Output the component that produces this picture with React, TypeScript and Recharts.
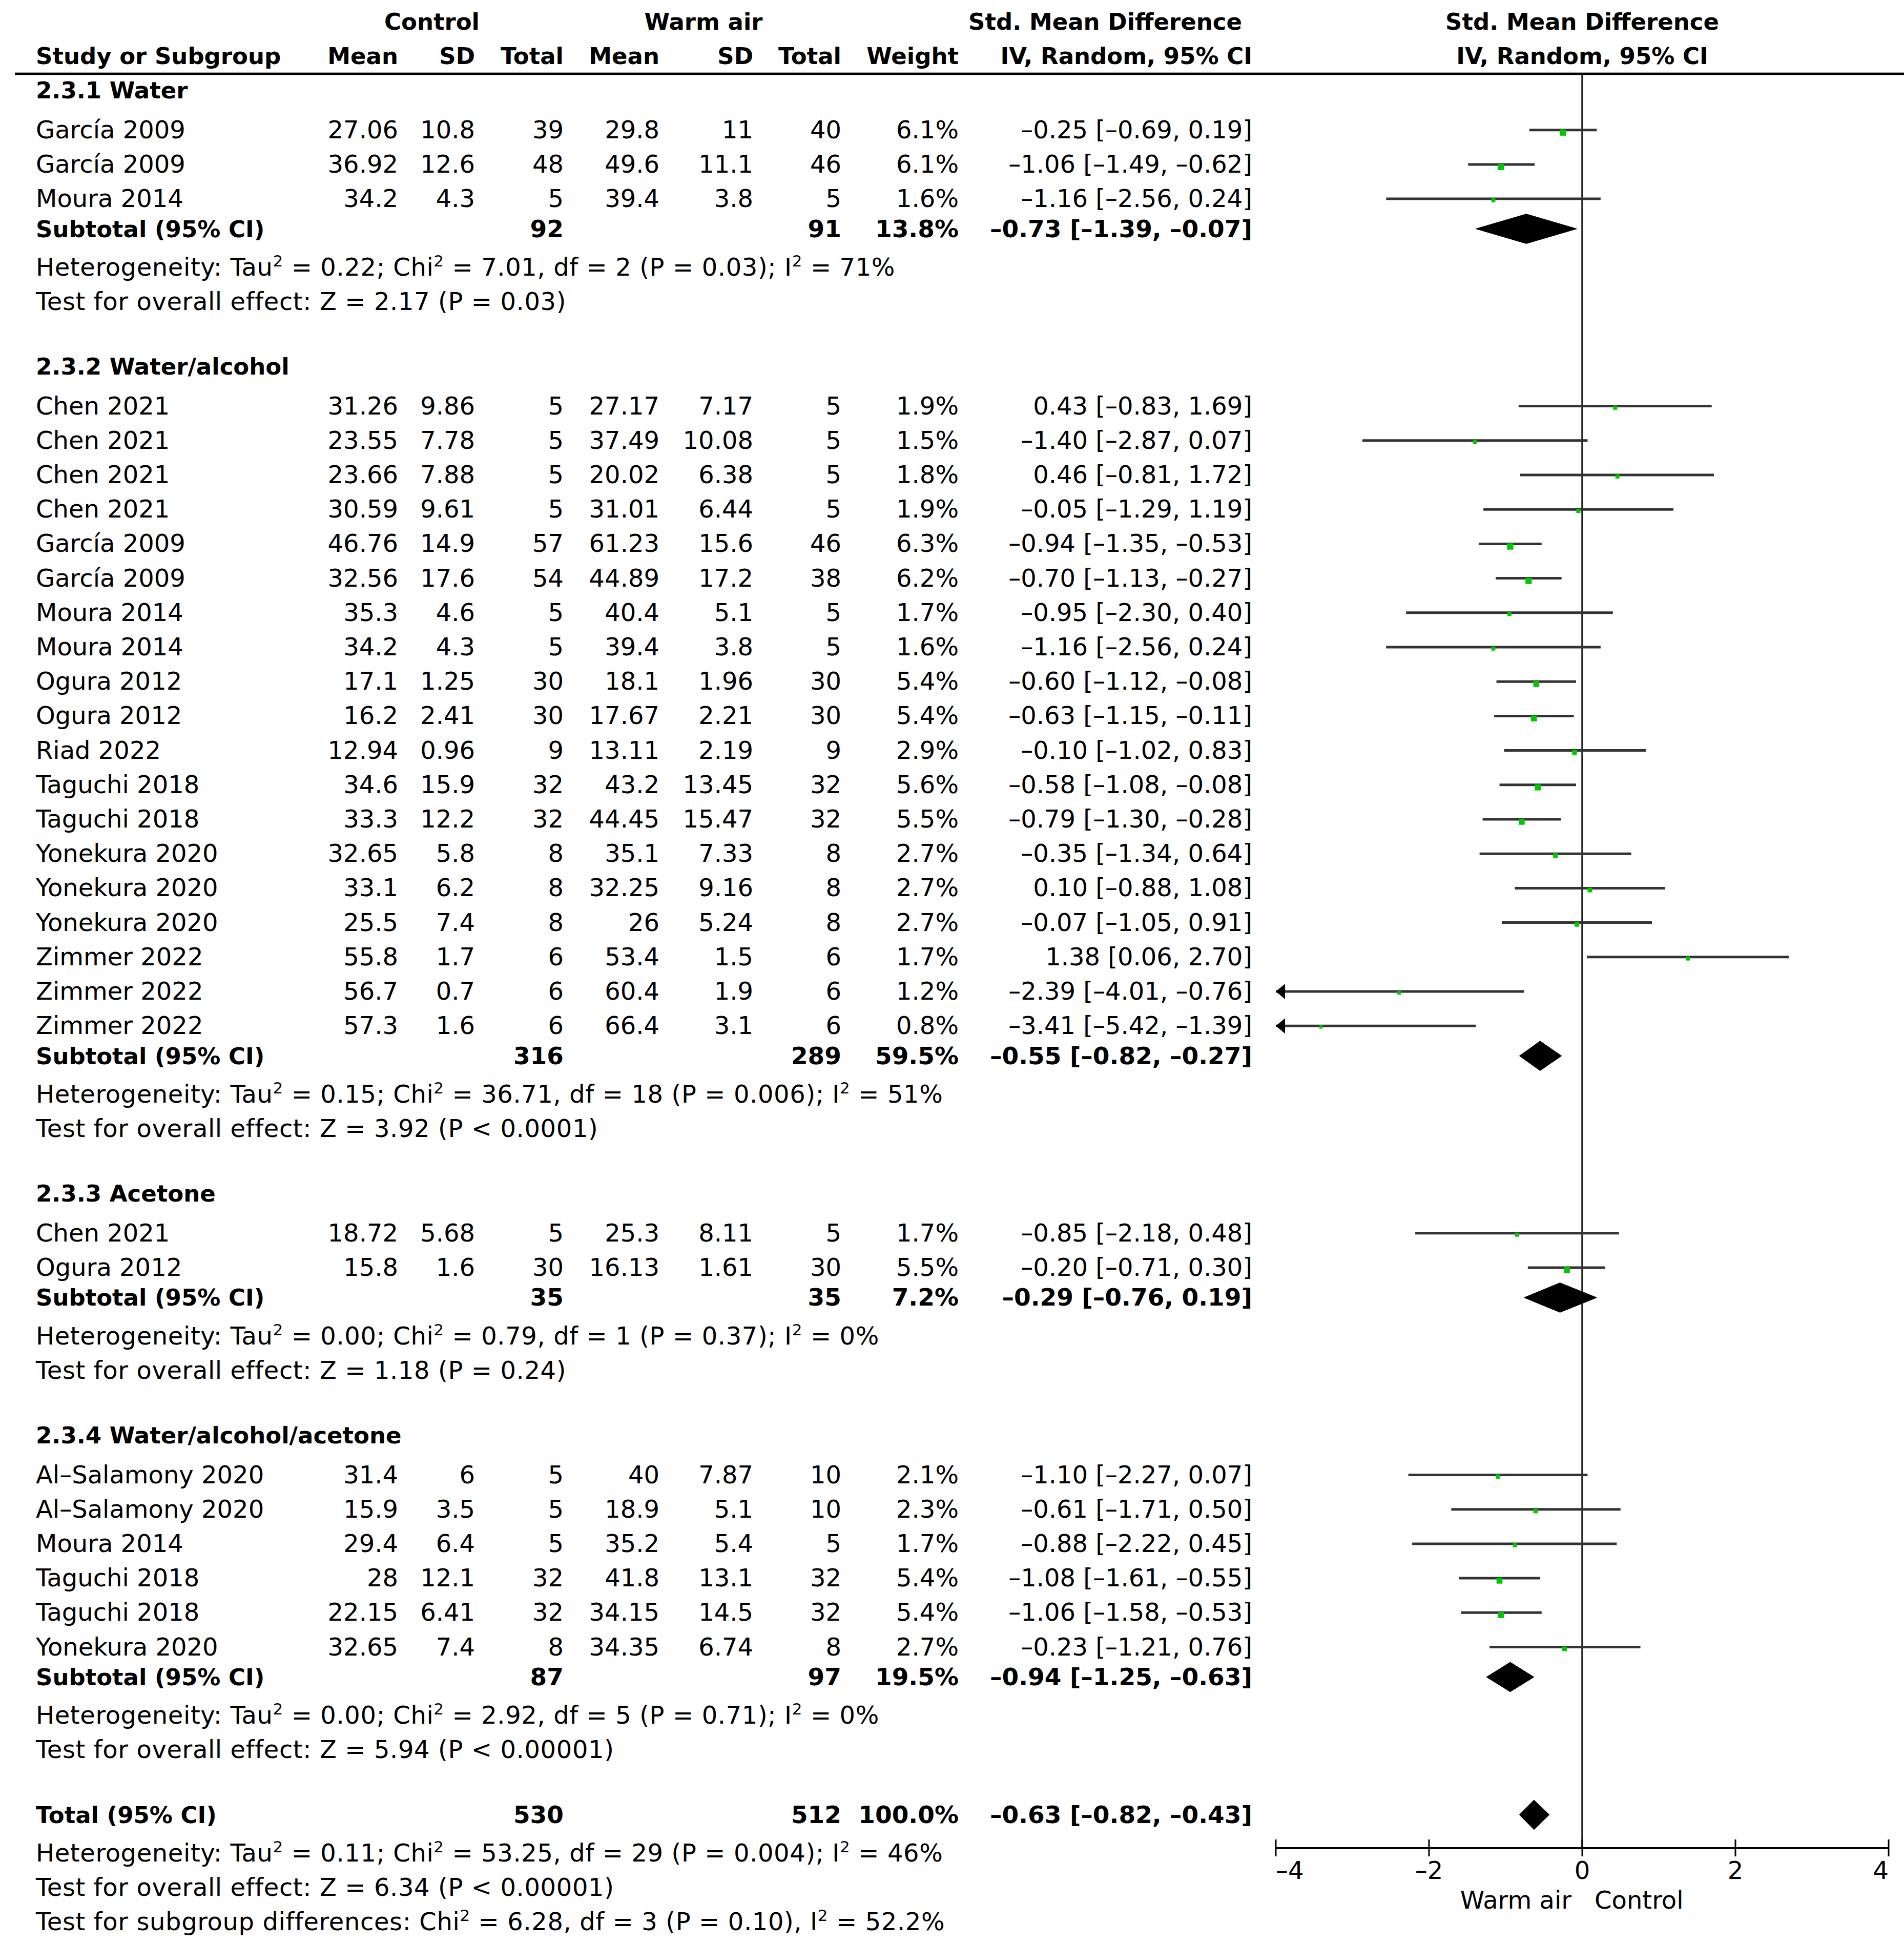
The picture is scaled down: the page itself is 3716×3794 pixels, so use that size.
import React from 'react';
import { ScatterChart, Scatter, XAxis, YAxis, ReferenceLine } from 'recharts';

const W = 3716;
const H = 3794;
const FONT = '"DejaVu Sans", sans-serif';

// name, control mean, sd, total, warm air mean, sd, total, weight %, SMD, lower, upper
type Study = [string, number, number, number, number, number, number, number, number, number, number];

const groupTitles = ['2.3.1 Water', '2.3.2 Water/alcohol', '2.3.3 Acetone', '2.3.4 Water/alcohol/acetone'];

const waterStudies: Study[] = [
  ['García 2009', 27.06, 10.8, 39, 29.8, 11, 40, 6.1, -0.25, -0.69, 0.19],
  ['García 2009', 36.92, 12.6, 48, 49.6, 11.1, 46, 6.1, -1.06, -1.49, -0.62],
  ['Moura 2014', 34.2, 4.3, 5, 39.4, 3.8, 5, 1.6, -1.16, -2.56, 0.24],
];

const waterAlcoholStudies: Study[] = [
  ['Chen 2021', 31.26, 9.86, 5, 27.17, 7.17, 5, 1.9, 0.43, -0.83, 1.69],
  ['Chen 2021', 23.55, 7.78, 5, 37.49, 10.08, 5, 1.5, -1.4, -2.87, 0.07],
  ['Chen 2021', 23.66, 7.88, 5, 20.02, 6.38, 5, 1.8, 0.46, -0.81, 1.72],
  ['Chen 2021', 30.59, 9.61, 5, 31.01, 6.44, 5, 1.9, -0.05, -1.29, 1.19],
  ['García 2009', 46.76, 14.9, 57, 61.23, 15.6, 46, 6.3, -0.94, -1.35, -0.53],
  ['García 2009', 32.56, 17.6, 54, 44.89, 17.2, 38, 6.2, -0.7, -1.13, -0.27],
  ['Moura 2014', 35.3, 4.6, 5, 40.4, 5.1, 5, 1.7, -0.95, -2.3, 0.4],
  ['Moura 2014', 34.2, 4.3, 5, 39.4, 3.8, 5, 1.6, -1.16, -2.56, 0.24],
  ['Ogura 2012', 17.1, 1.25, 30, 18.1, 1.96, 30, 5.4, -0.6, -1.12, -0.08],
  ['Ogura 2012', 16.2, 2.41, 30, 17.67, 2.21, 30, 5.4, -0.63, -1.15, -0.11],
  ['Riad 2022', 12.94, 0.96, 9, 13.11, 2.19, 9, 2.9, -0.1, -1.02, 0.83],
  ['Taguchi 2018', 34.6, 15.9, 32, 43.2, 13.45, 32, 5.6, -0.58, -1.08, -0.08],
  ['Taguchi 2018', 33.3, 12.2, 32, 44.45, 15.47, 32, 5.5, -0.79, -1.3, -0.28],
  ['Yonekura 2020', 32.65, 5.8, 8, 35.1, 7.33, 8, 2.7, -0.35, -1.34, 0.64],
  ['Yonekura 2020', 33.1, 6.2, 8, 32.25, 9.16, 8, 2.7, 0.1, -0.88, 1.08],
  ['Yonekura 2020', 25.5, 7.4, 8, 26, 5.24, 8, 2.7, -0.07, -1.05, 0.91],
  ['Zimmer 2022', 55.8, 1.7, 6, 53.4, 1.5, 6, 1.7, 1.38, 0.06, 2.7],
  ['Zimmer 2022', 56.7, 0.7, 6, 60.4, 1.9, 6, 1.2, -2.39, -4.01, -0.76],
  ['Zimmer 2022', 57.3, 1.6, 6, 66.4, 3.1, 6, 0.8, -3.41, -5.42, -1.39],
];

const acetoneStudies: Study[] = [
  ['Chen 2021', 18.72, 5.68, 5, 25.3, 8.11, 5, 1.7, -0.85, -2.18, 0.48],
  ['Ogura 2012', 15.8, 1.6, 30, 16.13, 1.61, 30, 5.5, -0.2, -0.71, 0.3],
];

const mixedStudies: Study[] = [
  ['Al-Salamony 2020', 31.4, 6, 5, 40, 7.87, 10, 2.1, -1.1, -2.27, 0.07],
  ['Al-Salamony 2020', 15.9, 3.5, 5, 18.9, 5.1, 10, 2.3, -0.61, -1.71, 0.5],
  ['Moura 2014', 29.4, 6.4, 5, 35.2, 5.4, 5, 1.7, -0.88, -2.22, 0.45],
  ['Taguchi 2018', 28, 12.1, 32, 41.8, 13.1, 32, 5.4, -1.08, -1.61, -0.55],
  ['Taguchi 2018', 22.15, 6.41, 32, 34.15, 14.5, 32, 5.4, -1.06, -1.58, -0.53],
  ['Yonekura 2020', 32.65, 7.4, 8, 34.35, 6.74, 8, 2.7, -0.23, -1.21, 0.76],
];

const groupStudies = [waterStudies, waterAlcoholStudies, acetoneStudies, mixedStudies];

const subtotalN = [[92, 91], [316, 289], [35, 35], [87, 97]];
const subtotalWeight = [13.8, 59.5, 7.2, 19.5];
const subtotalEffect = [
  [-0.73, -1.39, -0.07],
  [-0.55, -0.82, -0.27],
  [-0.29, -0.76, 0.19],
  [-0.94, -1.25, -0.63],
];
const heterogeneity = [
  'Heterogeneity: Tau² = 0.22; Chi² = 7.01, df = 2 (P = 0.03); I² = 71%',
  'Heterogeneity: Tau² = 0.15; Chi² = 36.71, df = 18 (P = 0.006); I² = 51%',
  'Heterogeneity: Tau² = 0.00; Chi² = 0.79, df = 1 (P = 0.37); I² = 0%',
  'Heterogeneity: Tau² = 0.00; Chi² = 2.92, df = 5 (P = 0.71); I² = 0%',
];
const overallTests = [
  'Test for overall effect: Z = 2.17 (P = 0.03)',
  'Test for overall effect: Z = 3.92 (P < 0.0001)',
  'Test for overall effect: Z = 1.18 (P = 0.24)',
  'Test for overall effect: Z = 5.94 (P < 0.00001)',
];

const totalN = [530, 512];
const totalWeight = 100;
const totalEffect = [-0.63, -0.82, -0.43];
const totalNotes = [
  'Heterogeneity: Tau² = 0.11; Chi² = 53.25, df = 29 (P = 0.004); I² = 46%',
  'Test for overall effect: Z = 6.34 (P < 0.00001)',
  'Test for subgroup differences: Chi² = 6.28, df = 3 (P = 0.10), I² = 52.2%',
];

const xTicks = [-4, -2, 0, 2, 4];
const headerTop = ['Control', 'Warm air', 'Std. Mean Difference'];
const headerCols = ['Study or Subgroup', 'Mean', 'SD', 'Total', 'Mean', 'SD', 'Total', 'Weight', 'IV, Random, 95% CI'];

// layout, in row units (one study line = 1)
const PITCH = 67.2;
const P_MIN = -42 / PITCH;
const P_MAX = P_MIN + H / PITCH;
const RULE_P = 1.52;
const AXIS_P = 53.05;
const DIAMOND_H = 0.43;

const cellX = [70, 777, 927, 1100, 1287, 1470, 1642, 1871, 2444];

const dash = (s: string) => s.replace(/-/g, '–');
const f2 = (v: number) => dash(v.toFixed(2));
const ciText = (e: number[]) => `${f2(e[0])} [${f2(e[1])}, ${f2(e[2])}]`;

type Row = { x: number; p: number; kind: string; cells?: string[]; text?: string };

const tableRows: Row[] = [];
const ciSegments: { p: number; lo: number; hi: number }[] = [];
const markers: { x: number; p: number; w: number }[] = [];
const arrows: { x: number; p: number }[] = [];
const diamondPoints: { x: number; p: number }[] = [];

const addDiamond = (p: number, e: number[]) => {
  diamondPoints.push({ x: e[1], p }, { x: e[0], p: p - DIAMOND_H }, { x: e[2], p }, { x: e[0], p: p + DIAMOND_H });
};

tableRows.push({ x: 0, p: 0, kind: 'head1' });
tableRows.push({ x: 0, p: 1, kind: 'head2' });
tableRows.push({ x: 0, p: RULE_P, kind: 'rule' });

let head = 2;
groupStudies.forEach((studies, g) => {
  tableRows.push({ x: 0, p: head, kind: 'group', text: groupTitles[g] });
  studies.forEach((s, i) => {
    const p = head + 1.15 + i;
    tableRows.push({
      x: 0,
      p,
      kind: 'study',
      cells: [dash(s[0]), String(s[1]), String(s[2]), String(s[3]), String(s[4]), String(s[5]), String(s[6]), `${s[7].toFixed(1)}%`, ciText([s[8], s[9], s[10]])],
    });
    ciSegments.push({ p, lo: Math.max(s[9], -4), hi: Math.min(s[10], 4) });
    markers.push({ x: s[8], p, w: s[7] });
    if (s[9] < -4) arrows.push({ x: -4, p });
  });
  const sp = head + studies.length + 1.02;
  tableRows.push({
    x: 0,
    p: sp,
    kind: 'subtotal',
    cells: ['Subtotal (95% CI)', '', '', String(subtotalN[g][0]), '', '', String(subtotalN[g][1]), `${subtotalWeight[g].toFixed(1)}%`, ciText(subtotalEffect[g])],
  });
  addDiamond(sp, subtotalEffect[g]);
  tableRows.push({ x: 0, p: sp + 1.12, kind: 'text', text: heterogeneity[g] });
  tableRows.push({ x: 0, p: sp + 2.12, kind: 'text', text: overallTests[g] });
  head = sp + 4;
});

tableRows.push({
  x: 0,
  p: head,
  kind: 'subtotal',
  cells: ['Total (95% CI)', '', '', String(totalN[0]), '', '', String(totalN[1]), `${totalWeight.toFixed(1)}%`, ciText(totalEffect)],
});
addDiamond(head, totalEffect);
totalNotes.forEach((t, i) => tableRows.push({ x: 0, p: head + 1.12 + i, kind: 'text', text: t }));

const tickPoints = xTicks.map((v) => ({ x: v, p: AXIS_P }));

const withSup = (s: string) => {
  const parts = s.split('²');
  const out: React.ReactNode[] = [];
  parts.forEach((part, i) => {
    if (i > 0) out.push(<tspan key={`s${i}`} dy={-18} fontSize={31}>2</tspan>);
    out.push(<tspan key={`t${i}`} dy={i > 0 ? 18 : 0} fontSize={48}>{part}</tspan>);
  });
  return out;
};

const renderRow = (props: any) => {
  const { cx, cy, payload } = props;
  const r = payload as Row;
  const y = cy + 16;
  if (r.kind === 'rule') {
    return (
      <g>
        <line x1={29} x2={W} y1={cy - 3} y2={cy - 3} stroke="#aaa" strokeWidth={2} />
        <line x1={29} x2={W} y1={cy} y2={cy} stroke="#000" strokeWidth={4} />
      </g>
    );
  }
  if (r.kind === 'head1') {
    return (
      <g fontFamily={FONT} fontWeight="bold" fontSize={45} fill="#000">
        <text x={843} y={y} textAnchor="middle">{headerTop[0]}</text>
        <text x={1373} y={y} textAnchor="middle">{headerTop[1]}</text>
        <text x={2424} y={y} textAnchor="end">{headerTop[2]}</text>
        <text x={cx} y={y} textAnchor="middle">{headerTop[2]}</text>
      </g>
    );
  }
  if (r.kind === 'head2') {
    return (
      <g fontFamily={FONT} fontWeight="bold" fontSize={45} fill="#000">
        {headerCols.map((h, i) => (
          <text key={i} x={cellX[i]} y={y} textAnchor={i === 0 ? 'start' : 'end'}>{h}</text>
        ))}
        <text x={cx} y={y} textAnchor="middle">{headerCols[8]}</text>
      </g>
    );
  }
  if (r.kind === 'group') {
    return (
      <text x={cellX[0]} y={y} fontFamily={FONT} fontWeight="bold" fontSize={45} fill="#000">{r.text}</text>
    );
  }
  if (r.kind === 'text') {
    return (
      <text x={cellX[0]} y={y} fontFamily={FONT} fontSize={48} letterSpacing={0.6} fill="#000">{withSup(r.text || '')}</text>
    );
  }
  const bold = r.kind === 'subtotal';
  return (
    <g fontFamily={FONT} fontWeight={bold ? 'bold' : 'normal'} fill="#000">
      {(r.cells || []).map((c, i) =>
        c ? (
          <text key={i} x={cellX[i]} y={y} fontSize={bold ? (i === 0 ? 45 : 47) : 48} textAnchor={i === 0 ? 'start' : 'end'}>{c}</text>
        ) : null
      )}
    </g>
  );
};

const renderMarker = (props: any) => {
  const { cx, cy, payload } = props;
  const s = 3 + 3.7 * Math.sqrt(payload.w);
  return <rect x={cx - s / 2} y={cy - 1} width={s} height={s} fill="#00c800" />;
};

const renderArrow = (props: any) => {
  const { cx, cy } = props;
  return <polygon points={`${cx},${cy} ${cx + 18},${cy - 15} ${cx + 18},${cy + 15}`} fill="#000" />;
};

const renderNothing = () => <g />;

const renderDiamonds = (props: any) => {
  const pts: { x: number; y: number }[] = props.points || [];
  const shapes: React.ReactNode[] = [];
  for (let i = 0; i + 3 < pts.length; i += 4) {
    const d = pts.slice(i, i + 4).map((q) => `${q.x},${q.y}`).join(' ');
    shapes.push(<polygon key={i} points={d} fill="#000" stroke="#000" strokeWidth={1} />);
  }
  return <g>{shapes}</g>;
};

const renderTick = (props: any) => {
  const { cx, cy, payload } = props;
  const v = payload.x as number;
  const anchor = v === xTicks[0] ? 'start' : v === xTicks[xTicks.length - 1] ? 'end' : 'middle';
  return (
    <g fontFamily={FONT} fontSize={48} fill="#000">
      <line x1={cx} x2={cx} y1={cy - 17} y2={cy + 16} stroke="#000" strokeWidth={3} />
      <text x={cx} y={cy + 60} textAnchor={anchor}>{dash(String(v))}</text>
      {v === 0 && (
        <>
          <text x={cx - 21} y={cy + 118} textAnchor="end">Warm air</text>
          <text x={cx + 24} y={cy + 118} textAnchor="start">Control</text>
        </>
      )}
    </g>
  );
};

export default function App() {
  return (
    <div style={{ position: 'absolute', left: 0, top: 0, width: W, height: H, background: '#fff' }}>
      <ScatterChart width={W} height={H} margin={{ top: 0, right: 30, bottom: 0, left: 2490 }}>
        <XAxis type="number" dataKey="x" domain={[-4, 4]} hide />
        <YAxis type="number" dataKey="p" domain={[P_MIN, P_MAX]} reversed hide />
        <ReferenceLine segment={[{ x: 0, y: RULE_P }, { x: 0, y: AXIS_P }]} stroke="#222" strokeWidth={3.5} />
        <ReferenceLine segment={[{ x: -4, y: AXIS_P }, { x: 4, y: AXIS_P }]} stroke="#000" strokeWidth={4} />
        {ciSegments.map((c, i) => (
          <ReferenceLine key={i} segment={[{ x: c.lo, y: c.p }, { x: c.hi, y: c.p }]} stroke="#333" strokeWidth={5} />
        ))}
        <Scatter data={tableRows} shape={renderRow} isAnimationActive={false} />
        <Scatter data={markers} shape={renderMarker} isAnimationActive={false} />
        <Scatter data={arrows} shape={renderArrow} isAnimationActive={false} />
        <Scatter data={diamondPoints} shape={renderNothing} line={renderDiamonds} isAnimationActive={false} />
        <Scatter data={tickPoints} shape={renderTick} isAnimationActive={false} />
      </ScatterChart>
    </div>
  );
}
